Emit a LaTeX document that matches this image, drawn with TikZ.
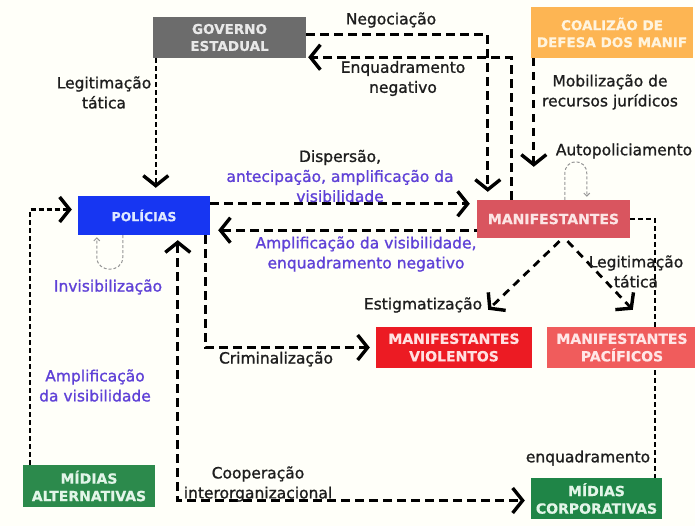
\documentclass[tikz,border=0pt]{standalone}
\usepackage{fontspec}
\setmainfont{DejaVu Sans}
\newfontfamily\lblfont[FakeBold=1.1]{DejaVu Sans}
\newfontfamily\boxfont[FakeBold=0.6]{DejaVu Sans Bold}
\usetikzlibrary{arrows.meta,calc}
\pgfdeclarelayer{back}
\pgfsetlayers{back,main}

\definecolor{paper}{RGB}{255,255,249}
\definecolor{ink}{RGB}{30,30,30}
\definecolor{govgray}{RGB}{108,108,108}
\definecolor{govtxt}{RGB}{232,232,232}
\definecolor{coalorange}{RGB}{253,181,83}
\definecolor{coaltxt}{RGB}{255,244,222}
\definecolor{polblue}{RGB}{23,54,242}
\definecolor{poltxt}{RGB}{222,232,255}
\definecolor{manred}{RGB}{217,85,95}
\definecolor{mantxt}{RGB}{252,228,228}
\definecolor{violred}{RGB}{236,27,35}
\definecolor{violtxt}{RGB}{255,224,224}
\definecolor{pacred}{RGB}{240,92,92}
\definecolor{pactxt}{RGB}{255,230,230}
\definecolor{altgreen}{RGB}{44,138,76}
\definecolor{corpgreen}{RGB}{31,133,71}
\definecolor{greentxt}{RGB}{226,245,232}
\definecolor{violet}{RGB}{95,65,215}
\definecolor{loopgray}{RGB}{150,150,150}

\begin{document}
\begin{tikzpicture}[x=1pt,y=-1pt,
  box/.style={inner sep=0pt, align=center,
    font=\fontsize{14}{17.5}\selectfont\boxfont},
  lbl/.style={inner sep=0pt, align=center, text=ink,
    font=\fontsize{15.5}{20}\selectfont\lblfont},
  chev/.tip={Straight Barb[length=10pt,width=25pt,line width=3.4pt]},
  smallchev/.tip={Straight Barb[length=3pt,width=6pt]},
  bigdash/.style={line width=3pt, dash pattern=on 9pt off 5pt},
  middash/.style={line width=2.8pt, dash pattern=on 8pt off 6pt},
  thindash/.style={line width=2.2pt, dash pattern=on 5pt off 3pt},
  loopdash/.style={line width=1pt, loopgray, dash pattern=on 3pt off 2pt}]

\begin{pgfonlayer}{back}
  \fill[paper] (0,0) rectangle (695,526);
\end{pgfonlayer}
\useasboundingbox (0,0) rectangle (695,526);

% actors
\node[box, fill=govgray, text=govtxt, minimum width=153pt, minimum height=41pt,
  font=\fontsize{13.5}{17}\selectfont\boxfont] (gov) at (229.5,37.5) {GOVERNO\\ESTADUAL};
\node[box, fill=coalorange, text=coaltxt, minimum width=162pt, minimum height=51pt,
  font=\fontsize{13.5}{17}\selectfont\boxfont] (coal) at (612,32.5) {COALIZÃO DE\\DEFESA DOS MANIF};
\node[box, fill=polblue, text=poltxt, minimum width=132pt, minimum height=39pt,
  font=\fontsize{12.5}{15}\selectfont\boxfont] (pol) at (144,215.5) {POLÍCIAS};
\node[box, fill=manred, text=mantxt, minimum width=153pt, minimum height=38pt] (man) at (553.5,219) {MANIFESTANTES};
\node[box, fill=violred, text=violtxt, minimum width=156pt, minimum height=41pt] (viol) at (454,347.5) {MANIFESTANTES\\VIOLENTOS};
\node[box, fill=pacred, text=pactxt, minimum width=150pt, minimum height=41pt] (pac) at (622,347.5) {MANIFESTANTES\\PACÍFICOS};
\node[box, fill=altgreen, text=greentxt, minimum width=132pt, minimum height=42pt] (alt) at (89,486) {MÍDIAS\\ALTERNATIVAS};
\node[box, fill=corpgreen, text=greentxt, minimum width=131pt, minimum height=41pt] (corp) at (596.5,498.5) {MÍDIAS\\CORPORATIVAS};

% relations
\draw[bigdash, -{chev}] ($(gov.north east)+(0,18)$) -| ($(man.north west)+(11,-8)$);
\draw[bigdash, -{chev}] ($(man.north west)+(35,0)$) |- ($(gov.south east)+(2,-1)$);
\draw[middash, -{chev}] ($(coal.south west)+(3,0)$) -- ($(man.north west)+(57,-33)$);
\draw[loopdash, -{smallchev}] ($(man.north west)+(88,0)$) -- ++(0,-26)
  .. controls ++(0,-16) and ++(0,-16) .. ++(22,0) -- ($(man.north west)+(110,-3)$);
\draw[thindash, -{chev}] ($(gov.south west)+(3,0)$) -- ($(pol.north west)+(78,-8)$);
\draw[bigdash, -{chev}] ($(pol.north east)+(0,8)$) -- ($(man.north west)+(-7,4)$);
\draw[bigdash, {chev}-] ($(pol.south east)+(8,-5)$) -- ($(man.south west)+(0,-8)$);
\draw[loopdash, -{smallchev}] ($(pol.south west)+(45,0)$) -- ++(0,22)
  .. controls ++(0,16) and ++(0,16) .. ++(-26,0) -- ($(pol.south west)+(19,2)$);
\draw[bigdash, -{chev}] ($(pol.south east)+(-5,0)$) |- ($(viol.west)+(-6,0)$);
\draw[bigdash, {chev}-{chev}] ($(pol.south west)+(100,5)$) |- ($(corp.west)+(-6,2)$);
\draw[thindash, -{chev}] ($(alt.north west)+(7,0)$) |- ($(pol.west)+(-6,-6)$);
\draw[middash, -{chev}] ($(man.south)+(6,3)$) -- ($(viol.north east)+(-44,-17)$);
\draw[middash, -{chev}] ($(man.south)+(14,3)$) -- ($(pac.north west)+(86,-17)$);
\begin{pgfonlayer}{back}
  \draw[thindash] (man.east) -| ($(corp.north east)+(-7,0)$);
\end{pgfonlayer}

% relation labels
\node[lbl] (lneg) at (391,20) {Negociação};
\node[lbl] (lenq) at (403,78.5) {Enquadramento\\negativo};
\node[lbl] (lmob) at (610,92) {Mobilização de\\recursos jurídicos};
\node[lbl] (lauto) at (624,151) {Autopoliciamento};
\node[lbl] (lleg) at (104,92.5) {Legitimação\\tática};
\node[lbl] (ldisp) at (340,176) {Dispersão,\\\textcolor{violet}{antecipação, amplificação da}\\\textcolor{violet}{visibilidade}};
\node[lbl, text=violet] (lampl) at (366,254) {Amplificação da visibilidade,\\enquadramento negativo};
\node[lbl, text=violet] (linv) at (108,287) {Invisibilização};
\node[lbl] (lestig) at (423,305) {Estigmatização};
\node[lbl] (llegr) at (636,271.5) {Legitimação\\tática};
\node[lbl] (lcrim) at (276,359) {Criminalização};
\node[lbl, text=violet] (lvis) at (95,385.5) {Amplificação\\da visibilidade};
\node[lbl] (lcoop) at (258,484) {Cooperação\\interorganizacional};
\node[lbl] (lenqc) at (588,458) {enquadramento};
\end{tikzpicture}
\end{document}
